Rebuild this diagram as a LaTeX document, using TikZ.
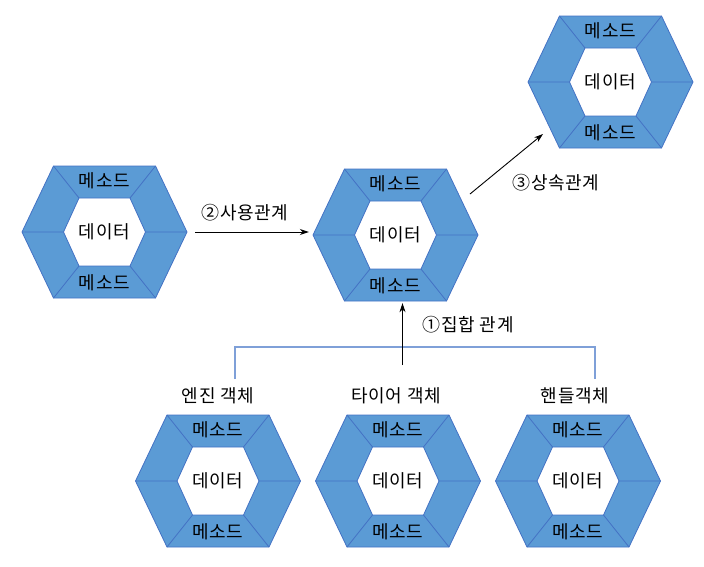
\documentclass[tikz,border=0pt]{standalone}
\usepackage{fontspec}
\setmainfont{Noto Sans CJK KR}[LetterSpace=4]
\usetikzlibrary{arrows.meta}
\definecolor{hexfill}{HTML}{5B9BD5}
\definecolor{hexline}{HTML}{4472C4}
\definecolor{brktline}{HTML}{7FA0D8}
\tikzset{
  hexring/.style={fill=hexfill,draw=hexline,line width=0.8pt,even odd rule},
  hexspoke/.style={draw=hexline,line width=0.8pt},
  hexbox/.style={draw=none,minimum width=165pt,minimum height=132pt,inner sep=0pt},
  lbl/.style={font=\fontsize{18}{21}\selectfont,inner sep=1pt},
  rel/.style={-{Stealth[length=9pt,width=6pt]},line width=0.9pt},
  brkt/.style={draw=brktline,line width=1.1pt}
}
% #1 name, #2 x, #3 y
\newcommand{\hexobj}[3]{%
\begin{scope}[shift={(#2,#3)}]
\path[hexring] (-82.5,0) -- (-51,-66) -- (51,-66) -- (82.5,0) -- (51,66) -- (-51,66) -- cycle
  (-41,0) -- (-25.5,-34) -- (25.5,-34) -- (41,0) -- (25.5,34) -- (-25.5,34) -- cycle;
\draw[hexspoke] (-82.5,0) -- (-41,0) (82.5,0) -- (41,0)
  (-51,-66) -- (-25.5,-34) (51,-66) -- (25.5,-34)
  (-51,66) -- (-25.5,34) (51,66) -- (25.5,34);
\end{scope}
\node[hexbox] (#1) at (#2,#3) {};
\node[lbl] (#1-m1) at (#2,#3-51) {메소드};
\node[lbl] (#1-d) at (#2,#3) {데이터};
\node[lbl] (#1-m2) at (#2,#3+51) {메소드};
}
\begin{document}
\begin{tikzpicture}[x=1pt,y=-1pt]
\useasboundingbox (0,0) rectangle (704,566);

\hexobj{user}{104.5}{232}
\hexobj{car}{395.5}{235}
\hexobj{sub}{610.5}{82}
\hexobj{engine}{218}{481}
\hexobj{tire}{398}{481}
\hexobj{handle}{578}{481}

\node[lbl] (engine-t) at (218,396) {엔진 객체};
\node[lbl] (tire-t) at (396,396) {타이어 객체};
\node[lbl] (handle-t) at (575,396) {핸들객체};

% relations
\draw[rel,shorten <=8pt,shorten >=4pt] (user.east) -- (user.east -| car.west);
\node[lbl] (use-t) at (245,213) {②사용관계};

\coordinate (inh-s) at (470,194);
\coordinate (inh-e) at (543,134);
\draw[rel] (inh-s) -- (inh-e);
\node[lbl] (inh-t) at (556,183) {③상속관계};

\coordinate (brk-l) at (235,379);
\coordinate (brk-r) at (595,379);
\draw[brkt] (brk-l) -- ++(0,-32) -| (brk-r);
\coordinate (agg-s) at (402.5,365);
\draw[rel,shorten >=2pt] (agg-s) -- (agg-s |- car.south);
\node[lbl] (agg-t) at (468,325) {①집합 관계};

\end{tikzpicture}
\end{document}
